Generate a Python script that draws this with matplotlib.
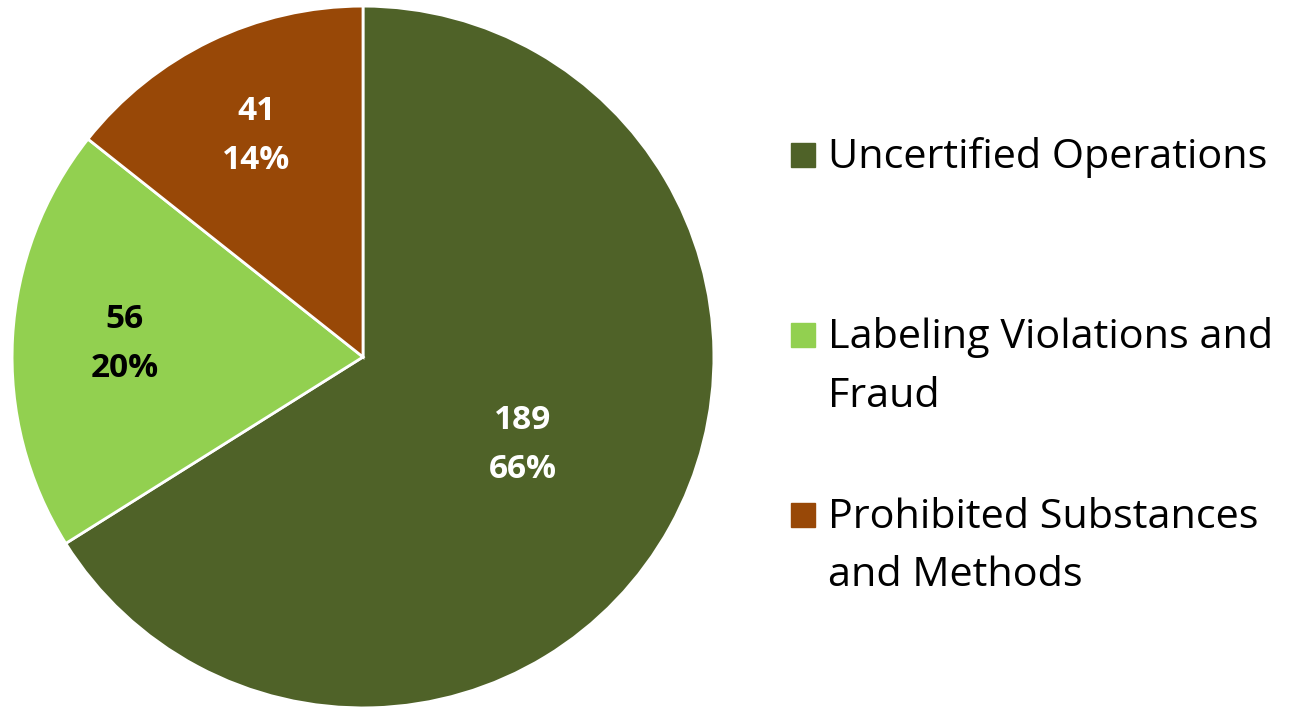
import numpy as np
import matplotlib.pyplot as plt

categories = ['Uncertified Operations', 'Labeling Violations and\nFraud',
              'Prohibited Substances\nand Methods']
counts = [189, 56, 41]
percents = ['66%', '20%', '14%']
colors = ['#4F6228', '#92D050', '#984807']
label_colors = ['white', 'black', 'white']
label_dist = [0.52, 0.68, 0.70]

plt.rcParams['font.family'] = ['Open Sans', 'DejaVu Sans']

fig = plt.figure(figsize=(12.95, 7.09), dpi=100)
ax = fig.add_axes([10 / 1295, -1 / 709, 706 / 1295, 706 / 709])

wedges, _ = ax.pie(counts, colors=colors, startangle=90, counterclock=False,
                   radius=1, wedgeprops=dict(edgecolor='white', linewidth=2))
ax.set_xlim(-1.006, 1.006)
ax.set_ylim(-1.006, 1.006)
ax.set_aspect('equal')

for w, n, p, c, d in zip(wedges, counts, percents, label_colors, label_dist):
    ang = np.deg2rad((w.theta1 + w.theta2) / 2)
    ax.text(d * np.cos(ang), d * np.sin(ang), f'{n}\n{p}', ha='center', va='center',
            color=c, fontsize=24, fontweight='bold', linespacing=1.65)

# legend
ys = [155, 335, 515]
for cat, col, y in zip(categories, colors, ys):
    fig.patches.append(plt.Rectangle((791 / 1295, 1 - (y + 12) / 709), 24 / 1295, 24 / 709,
                                     transform=fig.transFigure, color=col))
    fig.text(828 / 1295, 1 - (y - 18) / 709, cat, ha='left', va='top',
             fontsize=29.8, linespacing=1.6)

fig.savefig('out.png', dpi=100)
